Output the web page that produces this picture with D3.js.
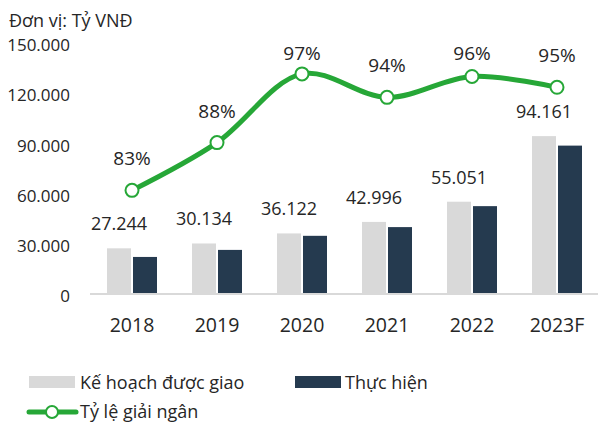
<!DOCTYPE html>
<html><head><meta charset="utf-8">
<script src="https://cdn.jsdelivr.net/npm/d3@7"></script>
<style>
html,body{margin:0;padding:0;background:#fff;}
svg text{font-family:"Open Sans",sans-serif;fill:#262626;}
</style></head>
<body><svg id="c" width="600" height="422"></svg>
<script>
const categories = ["2018","2019","2020","2021","2022","2023F"];
const planValues = [27244, 30134, 36122, 42996, 55051, 94161];
const actualValues = [22100, 26300, 34700, 39900, 52400, 88500];
const rateValues = [82.7, 88.4, 96.6, 93.8, 96.3, 95.0];
const rateLabels = ["83%","88%","97%","94%","96%","95%"];
const yTicks = [0, 30000, 60000, 90000, 120000, 150000];

const fmt = v => d3.format(",")(v).replace(/,/g, ".");
const svg = d3.select("#c");
const GREEN = "#26A737", LIGHT = "#D9D9D9", DARK = "#253A4F";

const x = d3.scaleBand().domain(categories).range([89.5, 599.5]).paddingInner(0).paddingOuter(0);
const y = d3.scaleLinear().domain([0, 150000]).range([294, 42.5]);
const yR = d3.scaleLinear().domain([70.33, 100.35]).range([294, 42.5]);
const barW = 24, gap = 2;

// unit
svg.append("text").attr("x", 9).attr("y", 19.5).attr("dominant-baseline", "central")
  .style("font-size", "18px").text("Đơn vị: Tỷ VNĐ");

// y axis labels
const yAxis = d3.axisLeft(y).tickValues(yTicks).tickFormat(fmt).tickSize(0).tickPadding(0);
const ga = svg.append("g").attr("transform", "translate(70,2.5)").call(yAxis);
ga.select(".domain").remove();
ga.selectAll("text").style("font-size", "17px").style("font-family", "Open Sans").attr("fill", "#262626");

// bars
const g = svg.append("g");
g.selectAll(".plan").data(categories).join("rect")
  .attr("x", d => x(d) + x.bandwidth()/2 - gap/2 - barW)
  .attr("y", (d,i) => y(planValues[i]))
  .attr("width", barW).attr("height", (d,i) => y(0) - y(planValues[i]))
  .attr("fill", LIGHT);
g.selectAll(".act").data(categories).join("rect")
  .attr("x", d => x(d) + x.bandwidth()/2 + gap/2)
  .attr("y", (d,i) => y(actualValues[i]))
  .attr("width", barW).attr("height", (d,i) => y(0) - y(actualValues[i]))
  .attr("fill", DARK);

// baseline axis
const xAxis = d3.axisBottom(x).tickSize(0).tickPadding(24);
const gx = svg.append("g").attr("transform", `translate(0,${y(0)})`).call(xAxis);
gx.select(".domain").attr("stroke", LIGHT).attr("stroke-width", 2).attr("d", "M90,0H598");
gx.selectAll("text").style("font-size", "19.5px").style("font-family", "Open Sans").attr("fill", "#262626");

// value labels
g.selectAll(".vl").data(categories).join("text")
  .attr("x", d => x(d) + x.bandwidth()/2 - gap/2 - barW/2)
  .attr("y", (d,i) => y(planValues[i]) - 25)
  .attr("text-anchor", "middle").attr("dominant-baseline", "central")
  .style("font-size", "18px").text((d,i) => fmt(planValues[i]));

// line
const pts = categories.map((d,i) => [x(d) + x.bandwidth()/2, yR(rateValues[i])]);
svg.append("path").datum(pts)
  .attr("d", d3.line().curve(d3.curveCatmullRom.alpha(0.5)))
  .attr("fill", "none").attr("stroke", GREEN).attr("stroke-width", 5).attr("stroke-linecap", "round");
svg.selectAll(".dot").data(pts).join("circle")
  .attr("cx", d => d[0]).attr("cy", d => d[1]).attr("r", 6.5)
  .attr("fill", "#fff").attr("stroke", GREEN).attr("stroke-width", 2);
svg.selectAll(".pl").data(pts).join("text")
  .attr("x", d => d[0]).attr("y", d => Math.max(d[1] - 32, 53))
  .attr("text-anchor", "middle").attr("dominant-baseline", "central")
  .style("font-size", "19px").text((d,i) => rateLabels[i]);

// legend
const lg = svg.append("g");
lg.append("rect").attr("x", 29).attr("y", 376).attr("width", 46).attr("height", 12).attr("fill", LIGHT);
lg.append("text").attr("x", 80).attr("y", 382).attr("dominant-baseline", "central").style("font-size", "18px").text("Kế hoạch được giao");
lg.append("rect").attr("x", 295).attr("y", 376).attr("width", 46).attr("height", 12).attr("fill", DARK);
lg.append("text").attr("x", 345).attr("y", 382).attr("dominant-baseline", "central").style("font-size", "18px").text("Thực hiện");
lg.append("line").attr("x1", 29).attr("x2", 76).attr("y1", 412).attr("y2", 412).attr("stroke", GREEN).attr("stroke-width", 5).attr("stroke-linecap", "round");
lg.append("circle").attr("cx", 52).attr("cy", 412).attr("r", 6).attr("fill", "#fff").attr("stroke", GREEN).attr("stroke-width", 2);
lg.append("text").attr("x", 80).attr("y", 411).attr("dominant-baseline", "central").style("font-size", "18px").text("Tỷ lệ giải ngân");
</script></body></html>
